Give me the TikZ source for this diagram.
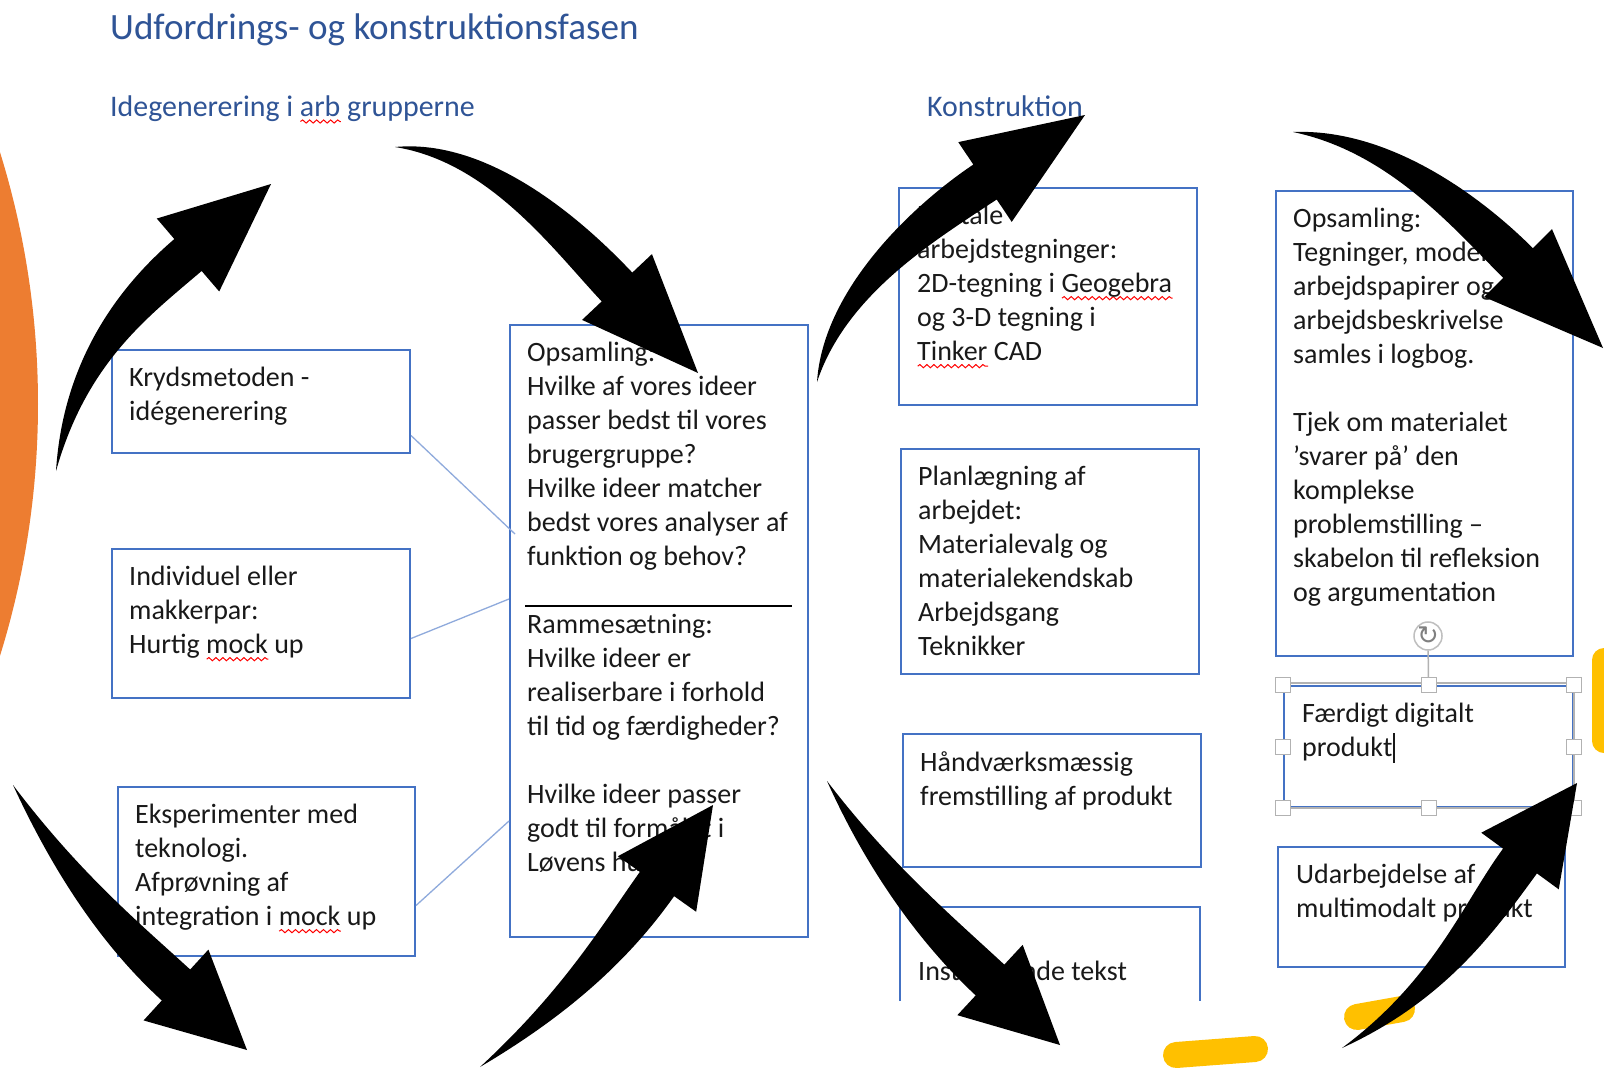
\documentclass[tikz,border=0pt]{standalone}
\usepackage{fontspec}
\setmainfont{Carlito}
\newfontfamily\symbolfont{DejaVu Sans}
\usetikzlibrary{calc, decorations.pathmorphing}

\definecolor{boksblaa}{HTML}{4472C4}
\definecolor{linjeblaa}{HTML}{8FAADC}
\definecolor{overskriftblaa}{HTML}{2F5496}
\definecolor{oransje}{HTML}{ED7D31}
\definecolor{gul}{HTML}{FFC000}

\newsavebox{\ordboks}
\newcommand{\stavefejl}[1]{\sbox{\ordboks}{#1}\rlap{\tikz[baseline=0pt]\draw[red, line width=1pt, decorate, decoration={snake, amplitude=1.6pt, segment length=7pt}] (0pt,-5.5pt) -- (\wd\ordboks,-5.5pt);}\usebox{\ordboks}}

% curved block arrow: tail, control, neck, tip
\newcommand{\blokpil}[4]{%
\coordinate (hale) at #1;
\coordinate (styr) at #2;
\coordinate (hals) at #3;
\coordinate (spids) at #4;
\coordinate (hv) at ($(hals)!21pt!90:(spids)$);
\coordinate (hh) at ($(hals)!21pt!-90:(spids)$);
\coordinate (bv) at ($(hals)!48pt!90:(spids)$);
\coordinate (bh) at ($(hals)!48pt!-90:(spids)$);
\fill[pil] (hale) .. controls ($(styr)!12pt!-90:(hale)$) and ($(hv)!70pt!-90:(hals)$) .. (hv) -- (bv) -- (spids) -- (bh) -- (hh) .. controls ($(hh)!70pt!90:(hals)$) and ($(styr)!12pt!90:(hale)$) .. (hale) -- cycle;
}

\tikzset{
boks/.style={draw=boksblaa, line width=2pt, anchor=north west, inner sep=0pt},
tekst/.style={anchor=north west, inner sep=0pt, align=left, text=black!90, font=\fontsize{28}{34}\selectfont},
overskrift/.style={anchor=base west, inner sep=0pt, text=overskriftblaa, font=\fontsize{37.1}{44}\selectfont},
underoverskrift/.style={anchor=base west, inner sep=0pt, text=overskriftblaa, font=\fontsize{29.9}{36}\selectfont},
forbind/.style={draw=linjeblaa, line width=1.3pt},
pil/.style={fill=black},
handtak/.style={draw=gray!60, fill=white, line width=1pt, minimum size=15pt, inner sep=0pt},
ramme/.style={draw=gray!60, line width=1.5pt},
rotknap/.style={circle, draw=gray!50, fill=white, line width=1.5pt, minimum size=28pt, inner sep=0pt, text=gray, font=\symbolfont\fontsize{26}{26}\selectfont}
}

\begin{document}
\begin{tikzpicture}[x=1pt, y=-1pt]
\useasboundingbox (0,0) rectangle (1604,1069);
\fill[white] (0,0) rectangle (1604,1069);
\clip (0,0) rectangle (1604,1069);

\fill[oransje] (-810,404) circle [radius=848pt];

\node[overskrift] (titel) at (110,39) {Udfordrings- og konstruktionsfasen};
\node[underoverskrift] (idegen) at (110,116) {Idegenerering i \stavefejl{arb} grupperne};
\node[underoverskrift] (konstr) at (927,116) {Konstruktion};

\node[boks, minimum width=298pt, minimum height=103pt] (kryds) at (111,349) {};
\node[tekst] (krydstekst) at (129,367) {Krydsmetoden -\\idégenerering};
\node[boks, minimum width=298pt, minimum height=149pt] (individ) at (111,548) {};
\node[tekst] (individtekst) at (129,566) {Individuel eller\\makkerpar:\\Hurtig \stavefejl{mock} up};
\node[boks, minimum width=297pt, minimum height=169pt] (eksper) at (117,786) {};
\node[tekst] (ekspertekst) at (135,804) {Eksperimenter med\\teknologi.\\Afprøvning af\\integration i \stavefejl{mock} up};

\node[boks, minimum width=298pt, minimum height=612pt] (opsaml) at (509,324) {};
\node[tekst] (opsamltekst) at (527,342) {Opsamling:\\Hvilke af vores ideer\\passer bedst til vores\\brugergruppe?\\Hvilke ideer matcher\\bedst vores analyser af\\funktion og behov?\\[34pt]Rammesætning:\\Hvilke ideer er\\realiserbare i forhold\\til tid og færdigheder?\\[34pt]Hvilke ideer passer\\godt til formålet i\\Løvens hule};
\draw[line width=1.5pt] (525,606) -- (792,606);

\draw[forbind] ([yshift=-34pt]kryds.east) -- ([xshift=6pt, yshift=97pt]opsaml.west);
\draw[forbind] ([yshift=-15pt]individ.east) -- ([yshift=32pt]opsaml.west);
\draw[forbind] ([yshift=-34pt]eksper.east) -- ([yshift=-190pt]opsaml.west);

\node[boks, minimum width=298pt, minimum height=217pt] (digital) at (898,187) {};
\node[tekst] (digitaltekst) at (917,205) {Digitale\\arbejdstegninger:\\2D-tegning i \stavefejl{Geogebra}\\og 3-D tegning i\\\stavefejl{Tinker} CAD};
\node[boks, minimum width=298pt, minimum height=225pt] (plan) at (900,448) {};
\node[tekst] (plantekst) at (918,466) {Planlægning af\\arbejdet:\\Materialevalg og\\materialekendskab\\Arbejdsgang\\Teknikker};
\node[boks, minimum width=298pt, minimum height=133pt] (haand) at (902,733) {};
\node[tekst] (haandtekst) at (920,751) {Håndværksmæssig\\fremstilling af produkt};
\node[boks, draw=none, minimum width=298pt, minimum height=92pt] (instr) at (900,907) {};
\draw[boksblaa, line width=2pt] (instr.south west) -- (instr.north west) -- (instr.north east) -- (instr.south east);
\node[tekst, anchor=base west] (instrtekst) at (918,980) {Instruerende tekst};

\node[boks, minimum width=297pt, minimum height=465pt] (opsaml2) at (1275,190) {};
\node[tekst] (opsaml2tekst) at (1293,208) {Opsamling:\\Tegninger, modeller,\\arbejdspapirer og\\arbejdsbeskrivelse\\samles i logbog.\\[34pt]Tjek om materialet\\’svarer på’ den\\komplekse\\problemstilling –\\skabelon til refleksion\\og argumentation};
\node[boks, minimum width=289pt, minimum height=121pt] (faerdig) at (1283,685) {};
\node[tekst] (faerdigtekst) at (1302,703) {Færdigt digitalt\\produkt\hspace{1pt}\rule[-6pt]{1.5pt}{30pt}};
\node[boks, minimum width=287pt, minimum height=120pt] (udarb) at (1277,846) {};
\node[tekst] (udarbtekst) at (1296,864) {Udarbejdelse af\\multimodalt produkt};

\draw[ramme] ([yshift=2pt]faerdig.north west) -- ([yshift=2pt]faerdig.north east) -- (faerdig.south east) -- (faerdig.south west);
\node[rotknap] (rot) at (1428,636) {↻};
\foreach \a/\n in {north west/nv, north/n, north east/no, east/o, south east/so, south/s, south west/sv, west/v}
  \node[handtak] (h\n) at (faerdig.\a) {};
\draw[ramme] (rot) -- (hn);

\fill[gul, rounded corners=12pt] (1592,648) rectangle (1630,753);
\draw[gul, line width=26pt, line cap=round] (1176,1055) -- (1255,1049);
\draw[gul, line width=26pt, line cap=round] (1357,1017) -- (1402,1009);

\blokpil{(56,471)}{(75,360)}{(188,255)}{(271,184)}
\blokpil{(395,147)}{(490,150)}{(617,287)}{(698,373)}
\blokpil{(817,382)}{(835,290)}{(985,182)}{(1085,115)}
\blokpil{(1293,132)}{(1390,140)}{(1518,263)}{(1603,348)}
\blokpil{(13,785)}{(70,880)}{(176,985)}{(247,1050)}
\blokpil{(480,1067)}{(570,1000)}{(657,884)}{(713,805)}
\blokpil{(827,781)}{(880,870)}{(990,980)}{(1060,1045)}
\blokpil{(1342,1048)}{(1440,990)}{(1520,861)}{(1577,783)}
\end{tikzpicture}
\end{document}
